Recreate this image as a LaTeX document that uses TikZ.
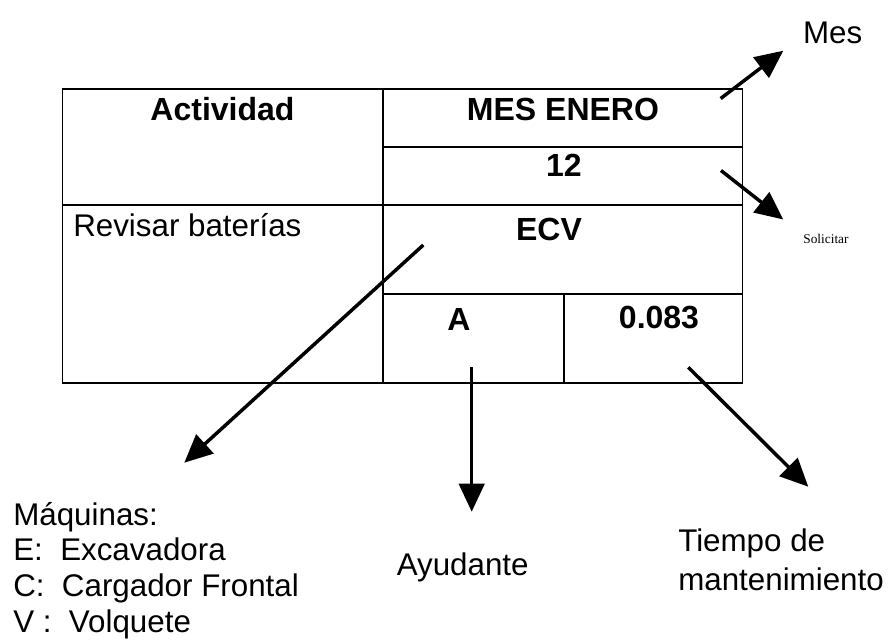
\documentclass[tikz,border=0pt]{standalone}
\usepackage{fontspec}
\setmainfont{Liberation Sans}
\newfontfamily\serifsmall{Liberation Serif}
\usetikzlibrary{arrows.meta}

\tikzset{
  txt/.style={inner sep=0pt,font=\fontsize{23.5}{28}\selectfont},
  hdr/.style={inner sep=0pt,font=\fontsize{24}{28}\selectfont\bfseries},
  grid/.style={line width=1pt},
  pointer/.style={line width=2.6pt,-{Triangle[length=21pt,width=19pt]}}
}

\begin{document}
\begin{tikzpicture}[x=0.75pt,y=0.75pt,yscale=-1,xscale=1]
\useasboundingbox (0,0) rectangle (894,640);

% Table
\draw [grid] (62.5,89) rectangle (742.5,383);
\draw [grid] (383,89) -- (383,383);
\draw [grid] (383,147) -- (742.5,147);
\draw [grid] (62.5,205) -- (742.5,205);
\draw [grid] (383,294) -- (742.5,294);
\draw [grid] (564,294) -- (564,383);

% Cell texts
\draw (222.5,120) node [anchor=base][hdr] (act) {Actividad};
\draw (563,120) node [anchor=base][hdr] (mes) {MES ENERO};
\draw (564,176.7) node [anchor=base][hdr] (num) {12};
\draw (549,240.7) node [anchor=base][hdr] (ecv) {ECV};
\draw (459,330) node [anchor=base][hdr] (ayu) {A};
\draw (659,328) node [anchor=base][hdr] (tmp) {0.083};
\draw (73,236) node [anchor=base west][txt] (rev) {Revisar baterías};

% Labels
\draw (832.7,43) node [anchor=base][txt] (lmes) {Mes};
\draw (826,243) node [anchor=base][inner sep=0pt,font=\serifsmall\fontsize{10}{12}\selectfont] (lsol) {Solicitar};
\draw (13,525) node [anchor=base west][txt] (maq1) {Máquinas:};
\draw (13,560) node [anchor=base west][txt] (maq2) {E:\ \ Excavadora};
\draw (13,596) node [anchor=base west][txt] (maq3) {C:\ \ Cargador Frontal};
\draw (13,632) node [anchor=base west][txt] (maq4) {V :\ \ Volquete};
\draw (462.7,575) node [anchor=base][txt] (layu) {Ayudante};
\draw (678,551.7) node [anchor=base west][txt] (ltmp1) {Tiempo de};
\draw (678,590) node [anchor=base west][txt] (ltmp2) {mantenimiento};

% Arrow ends
\coordinate (mesS) at (720.7,98.5);
\coordinate (mesT) at (783.3,50.7);
\coordinate (solS) at (721,170.5);
\coordinate (solT) at (783.3,219.5);
\coordinate (ecvS) at (423.3,245);
\coordinate (ecvT) at (184.3,462.7);
\coordinate (ayuS) at (471.7,367);
\coordinate (ayuT) at (471.7,511.7);
\coordinate (tmpS) at (688.3,367.3);
\coordinate (tmpT) at (808.3,486.7);

% Arrows
\draw [pointer] (mesS) -- (mesT);
\draw [pointer] (solS) -- (solT);
\draw [pointer] (ecvS) -- (ecvT);
\draw [pointer] (ayuS) -- (ayuT);
\draw [pointer] (tmpS) -- (tmpT);

\end{tikzpicture}
\end{document}
